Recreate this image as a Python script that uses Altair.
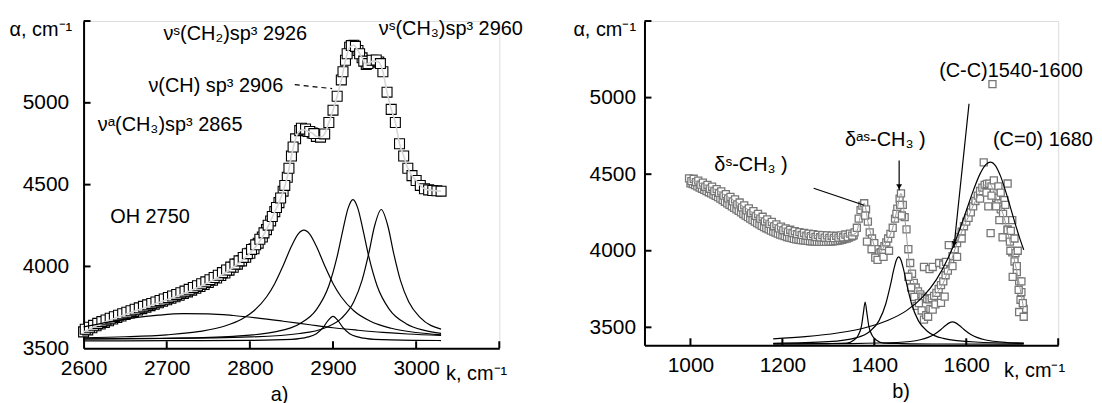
import altair as alt
import pandas as pd

FONT = "Liberation Sans"
FS = 20
LFS = 21

# ---------------- panel a) : 2600-3100 cm-1 ----------------
k_a = [2600, 2605, 2610, 2615, 2620, 2625, 2630, 2635, 2640, 2645, 2650, 2655, 2660, 2665,
       2670, 2675, 2680, 2685, 2690, 2695, 2700, 2705, 2710, 2715, 2720, 2725, 2730, 2735,
       2740, 2745, 2750, 2755, 2760, 2765, 2770, 2775, 2780, 2785, 2790, 2795, 2800, 2805,
       2810, 2815, 2820, 2825, 2830, 2835, 2840, 2845, 2850, 2855, 2860, 2865, 2870, 2875,
       2880, 2885, 2890, 2895, 2900, 2905, 2910, 2915, 2920, 2925, 2930, 2935, 2940, 2945,
       2950, 2955, 2960, 2965, 2970, 2975, 2980, 2985, 2990, 2995, 3000, 3005, 3010, 3015,
       3020, 3025, 3030]
alpha_a = [3600, 3612, 3625, 3637, 3648, 3658, 3668, 3678, 3688, 3697, 3706, 3715, 3724, 3733,
           3742, 3751, 3760, 3769, 3778, 3787, 3796, 3805, 3814, 3824, 3834, 3844, 3855, 3866,
           3877, 3889, 3902, 3915, 3929, 3944, 3960, 3977, 3995, 4014, 4034, 4056, 4080, 4108,
           4142, 4180, 4225, 4278, 4335, 4390, 4460, 4545, 4675, 4780, 4830, 4835, 4825, 4815,
           4795, 4790, 4810, 4880, 4955, 5040, 5140, 5260, 5340, 5352, 5320, 5275, 5235, 5250,
           5255, 5250, 5190, 5065, 4960, 4880, 4750, 4675, 4600, 4555, 4525, 4495, 4475, 4468,
           4464, 4462, 4460]
# second (repeated) scan, visible as doubled squares
k_a2 = [2602, 2607, 2612, 2617, 2622, 2627, 2632, 2637, 2642, 2647, 2652, 2657, 2662, 2667,
        2672, 2677, 2682, 2687, 2692, 2697, 2702, 2707, 2712, 2717, 2722, 2727, 2732, 2737,
        2742, 2747, 2752, 2757, 2762, 2767, 2772, 2777, 2782, 2787, 2792, 2797, 2802, 2807,
        2812, 2817, 2822, 2827, 2832, 2837, 2842, 2847, 2852, 2862, 2867, 2872, 2877, 2912,
        2917, 2922, 2927, 2932, 2937, 2942, 2947, 2952, 2957]
alpha_a2 = [3616, 3628, 3640, 3652, 3663, 3673, 3683, 3693, 3702, 3711, 3720, 3729, 3738, 3747,
            3756, 3765, 3774, 3783, 3792, 3801, 3810, 3819, 3829, 3839, 3849, 3860, 3871, 3882,
            3894, 3906, 3919, 3932, 3946, 3962, 3978, 3996, 4014, 4034, 4055, 4078, 4104, 4132,
            4166, 4205, 4252, 4305, 4360, 4418, 4495, 4600, 4730, 4845, 4840, 4825, 4812, 5190,
            5300, 5350, 5345, 5300, 5255, 5240, 5260, 5262, 5240]

# fitted components, panel a
cA_k = [2600, 2650, 2700, 2740, 2770, 2790, 2805, 2820, 2830, 2840, 2850, 2858, 2865, 2872,
        2880, 2890, 2900, 2910, 2925, 2945, 2970, 3000, 3030]
cA_v = [3564, 3570, 3582, 3603, 3636, 3677, 3729, 3813, 3896, 4004, 4123, 4198, 4222, 4198,
        4123, 4004, 3896, 3813, 3729, 3665, 3622, 3596, 3582]
cB_k = [2600, 2700, 2780, 2830, 2860, 2880, 2895, 2905, 2912, 2918, 2924, 2930, 2936, 2943,
        2953, 2968, 2988, 3010, 3030]
cB_v = [3556, 3561, 3573, 3600, 3650, 3736, 3882, 4061, 4225, 4353, 4408, 4353, 4225, 4061,
        3882, 3736, 3650, 3609, 3591]
cC_k = [2600, 2700, 2800, 2860, 2890, 2910, 2925, 2935, 2943, 2950, 2958, 2966, 2973, 2981,
        2991, 3005, 3030]
cC_v = [3558, 3560, 3569, 3590, 3624, 3682, 3784, 3916, 4080, 4247, 4348, 4247, 4080, 3916,
        3784, 3687, 3617]
cD_k = [2600, 2700, 2800, 2850, 2870, 2880, 2888, 2894, 2900, 2906, 2912, 2920, 2930, 2950,
        3000, 3030]
cD_v = [3545, 3546, 3548, 3554, 3569, 3589, 3626, 3669, 3695, 3669, 3626, 3589, 3569, 3554,
        3548, 3547]
cE_k = [2600, 2630, 2660, 2690, 2720, 2750, 2780, 2810, 2840, 2870, 2900, 2930, 2960, 2990, 3030]
cE_v = [3630, 3660, 3685, 3702, 3711, 3710, 3700, 3684, 3665, 3645, 3625, 3610, 3597, 3587, 3578]

ann_a_text = ["νˢ(CH₂)sp³ 2926", "ν(CH) sp³  2906", "νᵃ(CH₃)sp³ 2865", "νˢ(CH₃)sp³  2960", "OH  2750"]
ann_a_k = [2696, 2678, 2617, 2955, 2632]
ann_a_v = [5421, 5102, 4865, 5453, 4304]

lead_a_k = [2854]
lead_a_v = [5111]
lead_a_k2 = [2899]
lead_a_v2 = [5087]

xlab_a = [2600, 2700, 2800, 2900, 3000]
xtick_a = [2700, 2800, 2900, 3000, 3100]
ylab_a = [3500, 4000, 4500, 5000]
ytick_a = [4000, 4500, 5000, 5500]

# ---------------- panel b) : 900-1800 cm-1 ----------------
k_b = [997, 1002, 1007, 1012, 1017, 1022, 1027, 1032, 1037, 1042, 1047, 1052, 1057, 1062, 1067,
       1072, 1077, 1082, 1087, 1092, 1097, 1102, 1107, 1112, 1117, 1122, 1127, 1132, 1137, 1142,
       1147, 1152, 1157, 1162, 1167, 1172, 1177, 1182, 1187, 1192, 1197, 1202, 1207, 1212, 1217,
       1222, 1227, 1232, 1237, 1242, 1247, 1252, 1257, 1262, 1267, 1272, 1277, 1282, 1287, 1292,
       1297, 1302, 1307, 1312, 1317, 1322, 1327, 1332, 1337, 1342, 1347, 1352, 1357, 1362, 1366,
       1370, 1374, 1378, 1382, 1386, 1390, 1395, 1400, 1405, 1410, 1414, 1418, 1422, 1426, 1430,
       1435, 1440, 1445, 1450, 1455, 1458, 1462, 1466, 1470, 1474, 1478, 1482, 1486, 1490, 1495,
       1500, 1505, 1510, 1515, 1520, 1525, 1530, 1535, 1540, 1545, 1550, 1555, 1560, 1565, 1570,
       1575, 1580, 1585, 1590, 1595, 1600, 1605, 1610, 1615, 1620, 1625, 1630, 1635, 1640, 1645,
       1650, 1655, 1660, 1665, 1670, 1675, 1680, 1685, 1690, 1695, 1700, 1705, 1710, 1715, 1720,
       1725]
alpha_b = [4473, 4455, 4470, 4448, 4458, 4432, 4445, 4418, 4430, 4405, 4418, 4390, 4402, 4378, 4388,
           4360, 4370, 4342, 4352, 4322, 4335, 4303, 4315, 4283, 4296, 4264, 4276, 4246, 4258, 4228,
           4240, 4210, 4222, 4192, 4205, 4176, 4188, 4160, 4172, 4146, 4158, 4134, 4146, 4124, 4137,
           4116, 4128, 4108, 4122, 4104, 4117, 4098, 4112, 4095, 4108, 4090, 4104, 4088, 4102, 4085,
           4100, 4084, 4098, 4083, 4097, 4085, 4100, 4088, 4106, 4090, 4112, 4098, 4120, 4150, 4210,
           4265, 4295, 4310, 4270, 4190, 4120, 4080, 4050, 4010, 3985, 3990, 4005, 4030, 4055, 4080,
           4110, 4150, 4210, 4275, 4340, 4375, 4300, 4220, 4140, 4010, 3920, 3850, 3790, 3760, 3735,
           3715, 3700, 3690, 3685, 3682, 3690, 3705, 3725, 3750, 3775, 3800, 3840, 3870, 3920, 3965,
           4010, 4050, 4090, 4125, 4160, 4190, 4215, 4250, 4290, 4325, 4360, 4390, 4412, 4430, 4437,
           4438, 4420, 4380, 4345, 4310, 4270, 4240, 4200, 4140, 4060, 3990, 3930, 3860, 3800, 3730,
           3620]
# second scan in the smooth region (lower edge of the band)
k_b2 = [1000, 1005, 1010, 1015, 1020, 1025, 1030, 1035, 1040, 1045, 1050, 1055, 1060, 1065, 1070,
        1075, 1080, 1085, 1090, 1095, 1100, 1105, 1110, 1115, 1120, 1125, 1130, 1135, 1140, 1145,
        1150, 1155, 1160, 1165, 1170, 1175, 1180, 1185, 1190, 1195, 1200, 1205, 1210, 1215, 1220,
        1225, 1230, 1235, 1240, 1245, 1250, 1255, 1260, 1265, 1270, 1275, 1280, 1285, 1290, 1295,
        1300, 1305, 1310, 1315, 1320, 1325, 1330, 1335, 1340, 1345, 1350, 1355]
alpha_b2 = [4440, 4435, 4428, 4420, 4412, 4405, 4397, 4390, 4382, 4375, 4366, 4358, 4350, 4340, 4330,
            4320, 4310, 4300, 4290, 4280, 4270, 4260, 4250, 4240, 4230, 4220, 4210, 4200, 4190, 4180,
            4172, 4163, 4155, 4147, 4140, 4132, 4125, 4118, 4112, 4106, 4100, 4095, 4090, 4086, 4082,
            4078, 4075, 4072, 4070, 4068, 4066, 4064, 4062, 4061, 4060, 4059, 4058, 4058, 4058, 4058,
            4059, 4060, 4061, 4063, 4065, 4068, 4072, 4076, 4080, 4086, 4092, 4100]
# scattered extra points
k_bx = [1380, 1384, 1394, 1402, 1407, 1420, 1432, 1448, 1456, 1460, 1474, 1480, 1487, 1492, 1497,
        1503, 1508, 1513, 1517, 1522, 1527, 1533, 1545, 1553, 1508, 1520, 1527, 1541, 1550, 1556,
        1562, 1570, 1580, 1590, 1630, 1638, 1644, 1648, 1653, 1655, 1660, 1665, 1670, 1672, 1675,
        1679, 1683, 1685, 1690, 1690, 1696, 1697, 1700, 1701, 1705, 1707, 1710, 1712, 1714, 1715,
        1718, 1720, 1723, 1725, 1657]
v_bx = [4230, 4060, 4010, 3955, 3940, 3960, 4000, 4240, 4300, 4230, 3830, 3760, 3699, 3640, 3658,
        3610, 3550, 3580, 3569, 3620, 3615, 3650, 3660, 3700, 3894, 3880, 3894, 3920, 3910, 3927,
        4037, 3900, 3960, 4080, 4340, 4577, 4380, 4290, 4115, 4360, 4460, 4290, 4420, 4200, 4380,
        4088, 4330, 4300, 4439, 4135, 4000, 4130, 4200, 3829, 4080, 3984, 3900, 4000, 3745, 3600,
        3680, 3800, 3658, 3569, 5088]

# smooth gray fit through the data, panel b
k_fitb = [997, 1050, 1100, 1150, 1200, 1250, 1300, 1340, 1360, 1370, 1378, 1386, 1395, 1410,
          1425, 1440, 1450, 1458, 1466, 1476, 1490, 1505, 1520, 1535, 1550, 1565, 1580, 1600,
          1620, 1640, 1650, 1665, 1680, 1695, 1710, 1725]
v_fitb = [4465, 4405, 4318, 4222, 4150, 4110, 4093, 4097, 4115, 4230, 4310, 4190, 4080, 3985,
          4050, 4150, 4275, 4375, 4220, 3920, 3765, 3705, 3682, 3722, 3790, 3915, 4050, 4190,
          4325, 4430, 4438, 4345, 4240, 4060, 3865, 3620]

# fitted components, panel b
dS_k = [1180, 1300, 1340, 1355, 1365, 1372, 1376, 1380, 1384, 1388, 1395, 1405, 1420, 1460, 1550, 1725]
dS_v = [3391, 3394, 3397, 3416, 3449, 3508, 3589, 3665, 3589, 3508, 3449, 3416, 3397, 3394, 3391, 3390]
dA_k = [1180, 1300, 1360, 1390, 1410, 1425, 1435, 1443, 1448, 1453, 1458, 1463, 1471, 1481,
        1496, 1516, 1550, 1620, 1725]
dA_v = [3395, 3406, 3431, 3473, 3542, 3654, 3775, 3886, 3940, 3960, 3940, 3886, 3775, 3654,
        3542, 3473, 3428, 3404, 3395]
cc_k = [1180, 1350, 1450, 1500, 1530, 1545, 1555, 1563, 1570, 1577, 1585, 1595, 1610, 1640, 1690, 1725]
cc_v = [3391, 3394, 3401, 3419, 3453, 3486, 3512, 3529, 3535, 3529, 3512, 3486, 3453, 3419, 3401, 3397]
co_k = [1180, 1250, 1320, 1380, 1430, 1470, 1505, 1535, 1560, 1580, 1600, 1615, 1630, 1643,
        1653, 1663, 1675, 1690, 1705, 1715, 1725]
co_v = [3425, 3439, 3463, 3497, 3546, 3609, 3697, 3811, 3949, 4092, 4261, 4391, 4502, 4564,
        4579, 4558, 4484, 4345, 4191, 4094, 4006]

ann_b_text = ["δˢ-CH₃ )", "δᵃˢ-CH₃ )", "(C-C)1540-1600", "(C=0) 1680"]
ann_b_k = [1052, 1336, 1541, 1658]
ann_b_v = [4557, 4723, 5171, 4723]

lead_b_k = [1268, 1454, 1606]
lead_b_v = [4408, 4590, 4960]
lead_b_k2 = [1378, 1454, 1573]
lead_b_v2 = [4297, 4395, 4018]
head_b_k = [1454, 1574]
head_b_v = [4418, 4045]
head_b_ang = [0, 6]

xlab_b = [1000, 1200, 1400, 1600]
xtick_b = [1000, 1200, 1400, 1600, 1800]
ylab_b = [3500, 4000, 4500, 5000]
ytick_b = [3500, 4000, 4500, 5000, 5500]


def comps(parts):
    rows = []
    for name, ks, vs in parts:
        for k, v in zip(ks, vs):
            rows.append({"k": k, "v": v, "c": name})
    return pd.DataFrame(rows)


def make_axes(xlab, ylab, ylabpad, ytx, xtx):
    ax_x = alt.Axis(orient="bottom", values=xlab, format="d", ticks=False, grid=False,
                    domainColor="black", domainWidth=2, labelFont=FONT, labelFontSize=LFS,
                    labelColor="black", labelPadding=9, labelFlush=False, labelOverlap=False,
                    title="k, cm⁻¹", titleFont=FONT, titleFontSize=FS, titleFontWeight="normal",
                    titleColor="black", titleAlign="left", titleBaseline="middle", titleAngle=0,
                    titleX=xtx, titleY=25)
    ax_y = alt.Axis(orient="left", values=ylab, format="d", ticks=False, grid=False,
                    domainColor="black", domainWidth=2, labelFont=FONT, labelFontSize=LFS,
                    labelColor="black", labelPadding=ylabpad, labelFlush=False, labelOverlap=False,
                    title="α, cm⁻¹", titleFont=FONT, titleFontSize=FS, titleFontWeight="normal",
                    titleColor="black", titleAlign="left", titleBaseline="middle", titleAngle=0,
                    titleX=ytx, titleY=9)
    return ax_x, ax_y


def panel(W, H, xs, ys, axs, pts_df, pts_style, fit_df, fit_style, comp_df, ann_df,
          lead_df, lead_dash, head_df, xt_df, yt_df, title, title_dx):
    ax_x, ax_y = axs

    def X():
        return alt.X("k:Q", scale=xs, axis=ax_x)

    def Y():
        return alt.Y("v:Q", scale=ys, axis=ax_y)

    comp_l = alt.Chart(comp_df).mark_line(color="black", strokeWidth=1.2, interpolate="monotone").encode(
        x=X(), y=Y(), detail="c:N")
    pts = alt.Chart(pts_df).mark_square(**pts_style).encode(x=X(), y=Y())
    fit = alt.Chart(fit_df).mark_line(interpolate="monotone", **fit_style).encode(x=X(), y=Y())
    txt = alt.Chart(ann_df).mark_text(align="left", baseline="middle", font=FONT, fontSize=FS,
                                      color="black").encode(x=X(), y=Y(), text="t:N")
    rule_kw = dict(color="black", strokeWidth=1.2)
    if lead_dash:
        rule_kw["strokeDash"] = [5, 4]
    lead = alt.Chart(lead_df).mark_rule(**rule_kw).encode(x=X(), x2="k2:Q", y=Y(), y2="v2:Q")
    xt = alt.Chart(xt_df).mark_tick(orient="vertical", size=7, thickness=2, color="black",
                                    opacity=1, yOffset=-3.5).encode(x=X(), y=Y())
    yt = alt.Chart(yt_df).mark_tick(orient="horizontal", size=7, thickness=2, color="black",
                                    opacity=1, xOffset=3.5).encode(x=X(), y=Y())
    layers = [pts, fit, comp_l, lead, txt, xt, yt]
    if head_df is not None:
        head = alt.Chart(head_df).mark_point(shape="triangle-down", filled=True, color="black",
                                             size=35, opacity=1).encode(
            x=X(), y=Y(), angle=alt.Angle("a:Q", scale=None))
        layers.append(head)
    return alt.layer(*layers).properties(
        width=W, height=H,
        title=alt.TitleParams(title, orient="bottom", anchor="middle", frame="group", dx=title_dx,
                              offset=2, font=FONT, fontSize=FS, fontWeight="normal", color="black"))


# panel a
WA, HA = 418, 329
xa_dom = [2600, 3100]
ya_dom = [3500, 5500]
xa = alt.Scale(domain=xa_dom, nice=False, zero=False)
ya = alt.Scale(domain=ya_dom, nice=False, zero=False)
df_a = pd.DataFrame({"k": k_a + k_a2, "v": alpha_a + alpha_a2})
fit_a = pd.DataFrame({"k": k_a, "v": alpha_a})
comp_a = comps([("A", cA_k, cA_v), ("B", cB_k, cB_v), ("C", cC_k, cC_v), ("D", cD_k, cD_v), ("E", cE_k, cE_v)])
ann_a = pd.DataFrame({"k": ann_a_k, "v": ann_a_v, "t": ann_a_text})
lead_a = pd.DataFrame({"k": lead_a_k, "v": lead_a_v, "k2": lead_a_k2, "v2": lead_a_v2})
xt_a = pd.DataFrame({"k": xtick_a, "v": [ya_dom[0]] * len(xtick_a)})
yt_a = pd.DataFrame({"k": [xa_dom[0]] * len(ytick_a), "v": ytick_a})
left = panel(WA, HA, xa, ya, make_axes(xlab_a, ylab_a, 15, -75, 364), df_a,
             dict(size=100, fill="white", stroke="black", strokeWidth=1.1, opacity=1),
             fit_a, dict(color="#d6d6d6", strokeWidth=1.6),
             comp_a, ann_a, lead_a, True, None, xt_a, yt_a, "a)", -12)

# panel b
WB, HB = 416, 326
xb_dom = [900, 1800]
yb_dom = [3383, 5500]
xb = alt.Scale(domain=xb_dom, nice=False, zero=False)
yb = alt.Scale(domain=yb_dom, nice=False, zero=False)
df_b = pd.DataFrame({"k": k_b2 + k_b + k_bx, "v": alpha_b2 + alpha_b + v_bx})
fit_b = pd.DataFrame({"k": k_fitb, "v": v_fitb})
comp_b = comps([("ds", dS_k, dS_v), ("das", dA_k, dA_v), ("cc", cc_k, cc_v), ("co", co_k, co_v)])
ann_b = pd.DataFrame({"k": ann_b_k, "v": ann_b_v, "t": ann_b_text})
lead_b = pd.DataFrame({"k": lead_b_k, "v": lead_b_v, "k2": lead_b_k2, "v2": lead_b_v2})
head_b = pd.DataFrame({"k": head_b_k, "v": head_b_v, "a": head_b_ang})
xt_b = pd.DataFrame({"k": xtick_b, "v": [yb_dom[0]] * len(xtick_b)})
yt_b = pd.DataFrame({"k": [xb_dom[0]] * len(ytick_b), "v": ytick_b})
right = panel(WB, HB, xb, yb, make_axes(xlab_b, ylab_b, 9, -72, 361), df_b,
              dict(size=50, fill="white", stroke="#777777", strokeWidth=1.3, opacity=1),
              fit_b, dict(color="#9a9a9a", strokeWidth=1),
              comp_b, ann_b, lead_b, False, head_b, xt_b, yt_b, "b)", 50)

chart = alt.hconcat(left, right, spacing=146, bounds="flush").properties(
    padding={"left": 0, "top": 9, "right": 0, "bottom": 0}
).configure_view(stroke=None).configure(background="white")

chart.save("out.html", embed_options={"renderer": "svg", "actions": False})
